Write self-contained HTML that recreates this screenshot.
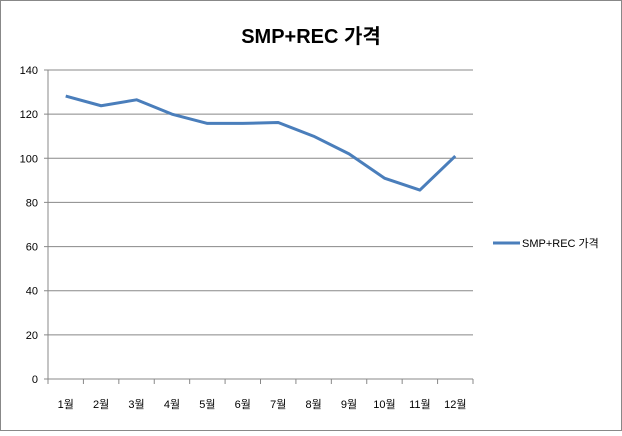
<!DOCTYPE html>
<html><head><meta charset="utf-8"><style>
body{margin:0;background:#fff;}
svg text{font-family:"Liberation Sans","Noto Sans CJK KR",sans-serif;}
</style></head><body>
<svg width="622" height="431" viewBox="0 0 622 431">
<rect x="0.5" y="0.5" width="621" height="430" fill="#fff" stroke="#888"/>
<text x="311" y="43" text-anchor="middle" font-size="20" font-weight="bold">SMP+REC 가격</text>
<g id="grid"></g><g id="xaxis"></g>
<path id="line" fill="none" stroke="#4a7ebb" stroke-width="3" stroke-linejoin="round"/>
<g>
<line x1="493" y1="243" x2="520" y2="243" stroke="#4a7ebb" stroke-width="3"/>
<text x="522" y="247" font-size="11">SMP+REC 가격</text>
</g>
</svg>
<script>
const categories=["1월","2월","3월","4월","5월","6월","7월","8월","9월","10월","11월","12월"];
const values=[128.2,123.8,126.5,120,115.8,115.8,116.2,110,102,91,85.6,101];
const yTicks=[0,20,40,60,80,100,120,140];
const X0=48,X1=473,Y0=379,Y1=70,YMAX=140;
const ns="http://www.w3.org/2000/svg";
const bw=(X1-X0)/categories.length;
const xs=i=>X0+bw*(i+0.5);
const ys=v=>Y0-(v/YMAX)*(Y0-Y1);
const grid=document.getElementById('grid'),xa=document.getElementById('xaxis');
function mk(tag,attrs,parent){const e=document.createElementNS(ns,tag);for(const k in attrs)e.setAttribute(k,attrs[k]);parent.appendChild(e);return e;}
yTicks.forEach(t=>{
  const y=ys(t);
  const l=mk('line',{x1:X0-4,x2:X1,y1:y,y2:y,stroke:t===0?'#888':'#888','stroke-width':1},grid);
  
  
  const tx=mk('text',{x:X0-10,y:y+4,'text-anchor':'end','font-size':11},grid);
  tx.textContent=t;
  
  
});
const ax=mk('line',{x1:X0,x2:X0,y1:Y1,y2:Y0,stroke:'#888'},grid);


categories.forEach((c,i)=>{
  const tk=mk('line',{x1:X0+bw*(i+1),x2:X0+bw*(i+1),y1:Y0,y2:Y0+5,stroke:'#888'},xa);
  
  
  const tx=mk('text',{x:xs(i),y:408,'text-anchor':'middle','font-size':11},xa);
  tx.textContent=c;
  
  
});
const t0=mk('line',{x1:X0,x2:X0,y1:Y0,y2:Y0+5,stroke:'#888'},xa);


document.getElementById('line').setAttribute('d',values.map((v,i)=>(i?'L':'M')+xs(i)+' '+ys(v)).join(' '));
</script>
</body></html>
